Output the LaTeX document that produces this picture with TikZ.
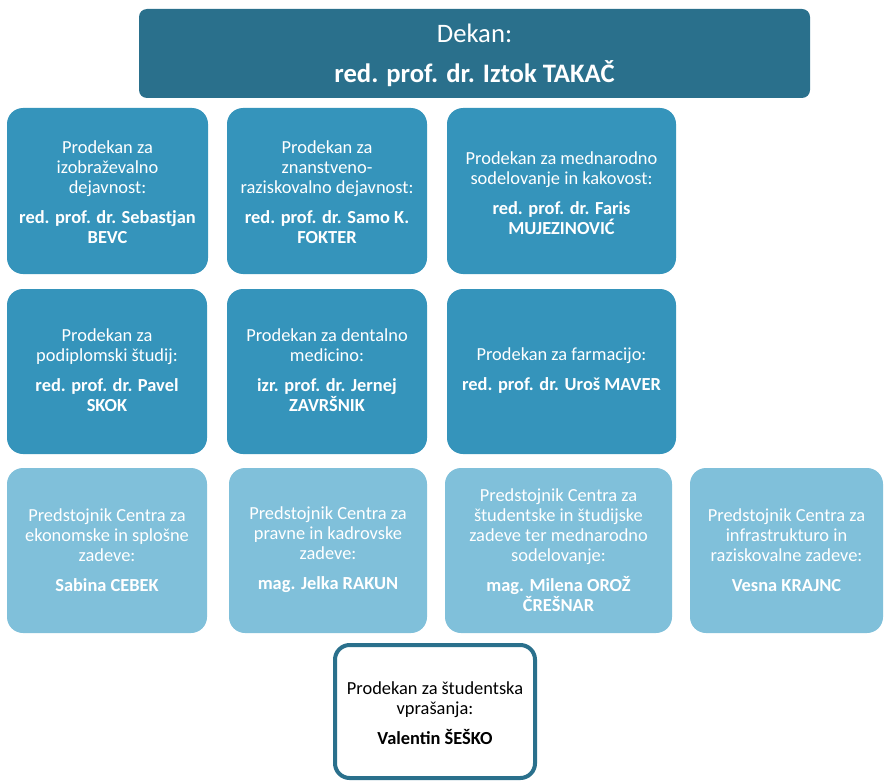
\documentclass[tikz,border=0pt]{standalone}
\usepackage{fontspec}
\setmainfont{Carlito}
\usepackage{tikz}
\definecolor{dekanblue}{HTML}{2A708C}
\definecolor{prodblue}{HTML}{3594BB}
\definecolor{centerblue}{HTML}{80C0DA}
\begin{document}
\begin{tikzpicture}[x = 0.75pt, y = -0.75pt,
    boxtext/.style = {align = center, inner sep = 0pt, text = white,
        font = \fontsize{13.8}{15}\selectfont},
    prodfill/.style = {fill = prodblue, rounded corners = 12pt},
    centerfill/.style = {fill = centerblue, rounded corners = 12pt}]
        \useasboundingbox (0, 0) rectangle (884, 781);
        % dekan
        \fill [dekanblue, rounded corners = 6pt] (139, 9) rectangle (810, 98);
        \node [boxtext, font = \fontsize{20}{24}\selectfont] (dekan) at (474.5, 55)
        {Dekan:\\[6pt]\textbf{red. prof. dr. Iztok TAKAČ}};
        % prodekani, prva vrsta
        \fill [prodfill] (7, 108) rectangle (208, 274);
        \fill [prodfill] (227, 108) rectangle (427, 274);
        \fill [prodfill] (447, 108) rectangle (676, 274);
        \node [boxtext] (izobr) at (107.5, 192)
        {Prodekan za\\izobraževalno\\dejavnost:\\[7.5pt]\textbf{red. prof. dr. Sebastjan}\\\textbf{BEVC}};
        \node [boxtext] (znan) at (327, 192)
        {Prodekan za\\znanstveno-\\raziskovalno dejavnost:\\[7.5pt]\textbf{red. prof. dr. Samo K.}\\\textbf{FOKTER}};
        \node [boxtext] (mednar) at (561.5, 193)
        {Prodekan za mednarodno\\sodelovanje in kakovost:\\[7.5pt]\textbf{red. prof. dr. Faris}\\\textbf{MUJEZINOVIĆ}};
        % prodekani, druga vrsta
        \fill [prodfill] (7, 289) rectangle (207, 454);
        \fill [prodfill] (227, 289) rectangle (427, 454);
        \fill [prodfill] (447, 289) rectangle (676, 454);
        \node [boxtext] (podipl) at (107, 370)
        {Prodekan za\\podiplomski študij:\\[7.5pt]\textbf{red. prof. dr. Pavel}\\\textbf{SKOK}};
        \node [boxtext] (dental) at (327, 370)
        {Prodekan za dentalno\\medicino:\\[7.5pt]\textbf{izr. prof. dr. Jernej}\\\textbf{ZAVRŠNIK}};
        \node [boxtext] (farm) at (561.5, 371)
        {Prodekan za farmacijo:\\[7.5pt]\textbf{red. prof. dr. Uroš MAVER}};
        % centri
        \fill [centerfill] (7, 468) rectangle (207, 633);
        \fill [centerfill] (229, 468) rectangle (427, 633);
        \fill [centerfill] (445, 468) rectangle (672, 633);
        \fill [centerfill] (690, 468) rectangle (883, 633);
        \node [boxtext] (ekon) at (107, 550)
        {Predstojnik Centra za\\ekonomske in splošne\\zadeve:\\[7.5pt]\textbf{Sabina CEBEK}};
        \node [boxtext] (pravne) at (328, 550)
        {Predstojnik Centra za\\pravne in kadrovske\\zadeve:\\[7.5pt]\textbf{mag. Jelka RAKUN}};
        \node [boxtext] (student) at (558.5, 550)
        {Predstojnik Centra za\\študentske in študijske\\zadeve ter mednarodno\\sodelovanje:\\[7.5pt]\textbf{mag. Milena OROŽ}\\\textbf{ČREŠNAR}};
        \node [boxtext] (infra) at (786.5, 550)
        {Predstojnik Centra za\\infrastrukturo in\\raziskovalne zadeve:\\[7.5pt]\textbf{Vesna KRAJNC}};
        % prodekan za studentska vprasanja
        \draw [dekanblue, line width = 3pt, fill = white, rounded corners = 11pt]
        (335, 645) rectangle (535, 778);
        \node [boxtext, text = black] (vpras) at (435, 713)
        {Prodekan za študentska\\vprašanja:\\[7.5pt]\textbf{Valentin ŠEŠKO}};
    \end{tikzpicture}
\end{document}
